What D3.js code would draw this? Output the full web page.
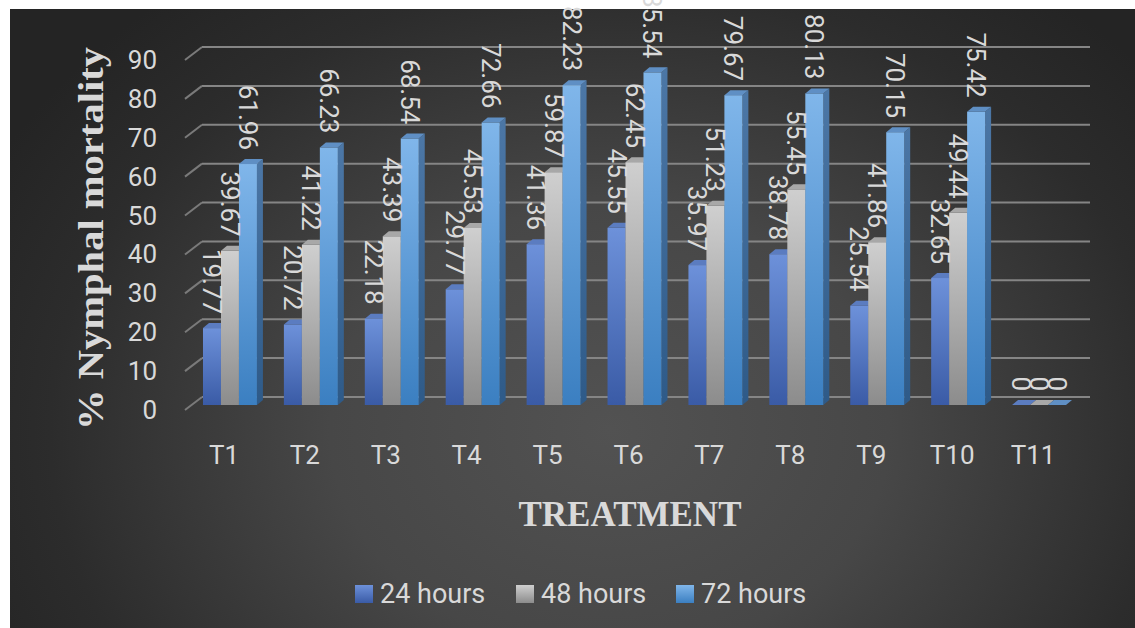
<!DOCTYPE html>
<html><head><meta charset="utf-8">
<script src="https://cdn.jsdelivr.net/npm/d3@7"></script>
<style>html,body{margin:0;padding:0;background:#fff;}svg{display:block;}</style>
</head><body>
<svg id="chart" width="1135" height="628"></svg>
<script>
const categories = ["T1","T2","T3","T4","T5","T6","T7","T8","T9","T10","T11"];
const seriesNames = ["24 hours","48 hours","72 hours"];
const hours24 = [19.77,20.72,22.18,29.77,41.36,45.55,35.97,38.78,25.54,32.65,0];
const hours48 = [39.67,41.22,43.39,45.53,59.87,62.45,51.23,55.45,41.86,49.44,0];
const hours72 = [61.96,66.23,68.54,72.66,82.23,85.54,79.67,80.13,70.15,75.42,0];
const yTicks = [0,10,20,30,40,50,60,70,80,90];
const yTitle = "% Nymphal mortality";
const xTitle = "TREATMENT";

const seriesValues = [hours24, hours48, hours72];
const svg = d3.select("#chart");
const defs = svg.append("defs");

// background
const bg = defs.append("radialGradient").attr("id","bg").attr("gradientUnits","userSpaceOnUse")
  .attr("cx",610).attr("cy",430).attr("r",700)
  .attr("gradientTransform","translate(610,430) scale(1,0.8) translate(-610,-430)");
bg.append("stop").attr("offset","0").attr("stop-color","#525252");
bg.append("stop").attr("offset","0.4").attr("stop-color","#474747");
bg.append("stop").attr("offset","0.8").attr("stop-color","#2c2c2c");
bg.append("stop").attr("offset","1").attr("stop-color","#242424");
svg.append("rect").attr("x",10).attr("y",9).attr("width",1125).attr("height",619).attr("fill","url(#bg)");

// bar gradients
const palette = [
  {front:["#6d91da","#3a5ba6"], side:["#4d6ca8","#2c457e"], top:"#5b7cc0"},
  {front:["#cfcfcf","#8c8c8c"], side:["#9a9a9a","#6a6a6a"], top:"#a8a8a8"},
  {front:["#80b6ea","#3b7fc1"], side:["#4c77a6","#2e5a88"], top:"#5f8fc4"}
];
palette.forEach((p,i)=>{
  const g = defs.append("linearGradient").attr("id","f"+i).attr("x1",0).attr("y1",0).attr("x2",0).attr("y2",1);
  g.append("stop").attr("offset","0").attr("stop-color",p.front[0]);
  g.append("stop").attr("offset","1").attr("stop-color",p.front[1]);
  const s = defs.append("linearGradient").attr("id","s"+i).attr("x1",0).attr("y1",0).attr("x2",0).attr("y2",1);
  s.append("stop").attr("offset","0").attr("stop-color",p.side[0]);
  s.append("stop").attr("offset","1").attr("stop-color",p.side[1]);
});

const x = d3.scaleBand().domain(categories).range([189.5,1079.5]).paddingInner(1/3).paddingOuter(1/6);
const x1 = d3.scaleBand().domain(seriesNames).range([0,x.bandwidth()]);
const y = d3.scaleLinear().domain([0,90]).range([405,55]);
const backDy = -8, frontDy = 5;
const wallLeft = 202, wallRight = 1090, frontLeft = 185;
const dX = 6, dY = -5;
const textColor = "#d9d9d9";
const sans = "Roboto, 'Open Sans', sans-serif";

// gridlines
const grid = svg.append("g");
yTicks.forEach(t=>{
  const yb = y(t)+backDy, yf = y(t)+frontDy;
  grid.append("line").attr("x1",wallLeft).attr("x2",wallRight).attr("y1",yb).attr("y2",yb)
    .attr("stroke","#858585").attr("stroke-width",2);
  grid.append("line").attr("x1",frontLeft).attr("x2",wallLeft).attr("y1",yf).attr("y2",yb)
    .attr("stroke","#7a7a7a").attr("stroke-width",2);
});

// y tick labels
svg.append("g").selectAll("text").data(yTicks).join("text")
  .attr("x",157).attr("y",d=>y(d)+frontDy)
  .attr("text-anchor","end").attr("dominant-baseline","central")
  .attr("font-family",sans).attr("font-size",26)
  .attr("fill",textColor).text(d=>d);

// bars
const bars = svg.append("g");
categories.forEach((c,ci)=>{
  seriesNames.forEach((s,si)=>{
    const v = seriesValues[si][ci];
    const bx = x(c)+x1(s), w = x1.bandwidth();
    const top = y(v), base = y(0);
    const g = bars.append("g");
    g.append("polygon").attr("points",[[bx+w,top],[bx+w+dX,top+dY],[bx+w+dX,base+dY],[bx+w,base]].map(p=>p.join(",")).join(" "))
      .attr("fill","url(#s"+si+")");
    if (base-top>0) g.append("rect").attr("x",bx).attr("y",top).attr("width",w).attr("height",base-top).attr("fill","url(#f"+si+")");
    g.append("polygon").attr("points",[[bx,top],[bx+dX,top+dY],[bx+w+dX,top+dY],[bx+w,top]].map(p=>p.join(",")).join(" "))
      .attr("fill",palette[si].top);
  });
});

// data labels
const labels = svg.append("g");
categories.forEach((c,ci)=>{
  seriesNames.forEach((s,si)=>{
    const v = seriesValues[si][ci];
    const cx = x(c)+x1(s)+x1.bandwidth()/2;
    labels.append("text")
      .attr("transform",`translate(${cx},${y(v)-14}) rotate(90)`)
      .attr("text-anchor","end").attr("dominant-baseline","central")
      .attr("font-family",sans).attr("font-size",26)
      .attr("fill",textColor).text(v===0?"0":String(v));
  });
});

// category labels
svg.append("g").selectAll("text").data(categories).join("text")
  .attr("x",d=>x(d)+x.bandwidth()/2-6).attr("y",455)
  .attr("text-anchor","middle").attr("dominant-baseline","central")
  .attr("font-family",sans).attr("font-size",26)
  .attr("fill",textColor).text(d=>d);

// axis titles
svg.append("text").attr("transform","translate(103,430) rotate(-90)")
  .attr("text-anchor","start")
  .attr("textLength",383).attr("lengthAdjust","spacingAndGlyphs")
  .attr("font-family","'Liberation Serif', 'Times New Roman', serif").attr("font-weight","bold").attr("font-size",35)
  .attr("fill",textColor).text(yTitle);
svg.append("text").attr("x",630).attr("y",526).attr("text-anchor","middle")
  .attr("font-family","'Liberation Serif', 'Times New Roman', serif").attr("font-weight","bold").attr("font-size",35)
  .attr("fill",textColor).text(xTitle);

// legend
const legX = [355,516,676];
const leg = svg.append("g");
seriesNames.forEach((s,i)=>{
  leg.append("rect").attr("x",legX[i]).attr("y",585).attr("width",18).attr("height",18).attr("fill","url(#f"+i+")");
  leg.append("text").attr("x",legX[i]+25).attr("y",603)
    .attr("font-family",sans).attr("font-size",27)
    .attr("fill",textColor).text(s);
});
</script>
</body></html>
